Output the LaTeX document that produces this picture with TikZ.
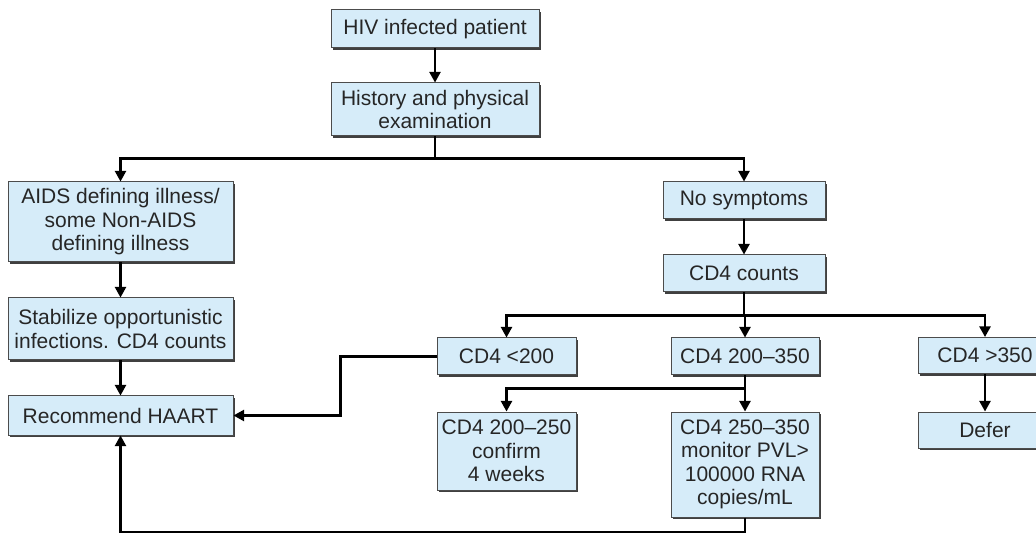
\documentclass[tikz,border=0pt]{standalone}
\usepackage{fontspec}
\setmainfont{Liberation Sans}
\usepackage{xcolor}
\usetikzlibrary{arrows.meta, shadows}
\definecolor{boxblue}{RGB}{214,236,249}

\begin{document}
\begin{tikzpicture}[x=1pt, y=-1pt, font=\fontsize{21}{23.5}\selectfont,
  box/.style={draw=black!70, line width=1pt, fill=boxblue, align=center, inner sep=0pt,
              text=black!85,
              drop shadow={shadow xshift=2.2pt, shadow yshift=-2.2pt, fill=black!75, opacity=1}},
  link/.style={line width=2.1pt},
  arr/.style={link, -{Triangle[length=10.5pt, width=11pt]}}]
  \useasboundingbox (0,0) rectangle (1036,534);

  % top of the tree
  \node[box, minimum width=208pt, minimum height=38pt] (hiv) at (435,29) {HIV infected patient};
  \node[box, minimum width=208pt, minimum height=53pt] (hist) at (435,109.5)
       {History and physical\\examination};

  % left branch
  \node[box, minimum width=225pt, minimum height=80pt] (aids) at (120.5,222)
       {AIDS defining illness/\\some Non-AIDS\\defining illness};
  \node[box, minimum width=225pt, minimum height=62pt] (stab) at (120.5,329)
       {Stabilize opportunistic\\infections. CD4 counts};
  \node[box, minimum width=225pt, minimum height=39pt] (haart) at (120.5,415.5) {Recommend HAART};

  % right branch
  \node[box, minimum width=162pt, minimum height=37pt] (nosym) at (744,200.5) {No symptoms};
  \node[box, minimum width=162pt, minimum height=37pt] (cd4) at (744,273.5) {CD4 counts};
  \node[box, minimum width=139pt, minimum height=37pt] (low) at (506.5,356.5) {CD4 <200};
  \node[box, minimum width=148pt, minimum height=37pt] (mid) at (745,356.5) {CD4 200--350};
  \node[box, minimum width=134pt, minimum height=36pt] (high) at (985,355.5) {CD4 >350};
  \node[box, minimum width=134pt, minimum height=36pt] (defer) at (985,430) {Defer};
  \node[box, minimum width=139pt, minimum height=78pt] (midlow) at (506.5,451)
       {CD4 200--250\\confirm\\4 weeks};
  \node[box, minimum width=148pt, minimum height=105pt] (midhigh) at (745,464.5)
       {CD4 250--350\\monitor PVL>\\100000 RNA\\copies/mL};

  % connectors
  \draw[arr] (hiv) -- (hist);
  \draw[arr] (hist.south) -- ++(0,22) -| (aids.north);
  \draw[arr] (hist.south) -- ++(0,22) -| (nosym.north);
  \draw[arr] (aids) -- (stab);
  \draw[arr] (stab) -- (haart);
  \draw[arr] (nosym) -- (cd4);
  \draw[arr] (cd4.south) -- ++(0,23) -| (low.north);
  \draw[arr] (cd4.south) -- ++(0,23) -| (mid.north);
  \draw[arr] (cd4.south) -- ++(0,23) -| (high.north);
  \draw[arr] (high) -- (defer);
  \draw[arr] (mid.south) -- ++(0,13) -| (midlow.north);
  \draw[arr] (mid.south) -- ++(0,13) -| (midhigh.north);
  \draw[arr] (low.west) -- ++(-96,0) |- (haart.east);
  \draw[arr] (midhigh.south) -- ++(0,14.5) -| (haart.south);
\end{tikzpicture}
\end{document}
